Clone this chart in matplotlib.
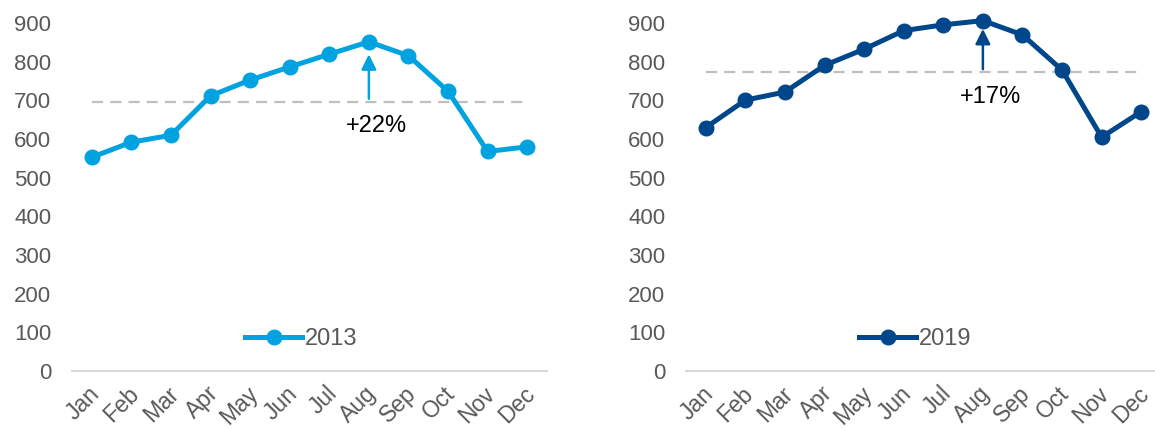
import matplotlib.pyplot as plt
import matplotlib.transforms as mtransforms
import numpy as np

plt.rcParams['font.family'] = ['Liberation Sans', 'DejaVu Sans']

months = ['Jan', 'Feb', 'Mar', 'Apr', 'May', 'Jun', 'Jul', 'Aug', 'Sep', 'Oct', 'Nov', 'Dec']
vals_2013 = [553, 592, 610, 712, 753, 787, 820, 852, 816, 724, 568, 580]
vals_2019 = [630, 701, 722, 791, 833, 881, 896, 907, 870, 779, 605, 671]
years = ['2013', '2019']
colors = ['#00A3E0', '#00468B']
yticks = [0, 100, 200, 300, 400, 500, 600, 700, 800, 900]

fig = plt.figure(figsize=(11.55, 4.3), dpi=100)
lefts = [72 / 1155, 686 / 1155]
grey = '#595959'

for i, (vals, year, c) in enumerate(zip([vals_2013, vals_2019], years, colors)):
    ax = fig.add_axes([lefts[i], 1 - 370.7 / 430, 475 / 1155, 347.4 / 430])
    x = np.arange(len(months))
    ax.plot(x, vals, color=c, lw=3.6, marker='o', ms=10.5, label=year,
            clip_on=False, zorder=3)

    avg = np.mean(vals)
    peak = int(np.argmax(vals))
    pct = (max(vals) / avg - 1) * 100
    # average line across the months
    ax.plot([x[0], x[-1]], [avg, avg], color='#BFBFBF', lw=1.6,
            dashes=(5, 3.2), zorder=1)
    # arrow from the average up to the peak month
    ax.annotate('', xy=(peak, max(vals)), xytext=(peak, avg),
                arrowprops=dict(arrowstyle='-|>,head_length=0.9,head_width=0.45',
                                color=c, lw=1.8, shrinkA=2, shrinkB=9 if i == 0 else 6),
                annotation_clip=False, zorder=2)
    ax.annotate('+%d%%' % round(pct), xy=(peak + 0.2, avg), xytext=(0, -10),
                textcoords='offset points', ha='center', va='top',
                fontsize=17, color='black', annotation_clip=False)

    ax.set_xlim(-0.5, 11.5)
    ax.set_ylim(0, 900)
    ax.set_yticks(yticks)
    ax.set_xticks(x)
    ax.set_xticklabels(months, rotation=45, ha='right', va='center',
                       rotation_mode='anchor')
    ax.tick_params(axis='y', length=0, pad=15, labelsize=16, labelcolor=grey)
    ax.tick_params(axis='x', length=0, pad=14, labelsize=16.5, labelcolor=grey)
    # nudge month labels a little to the right
    shift = mtransforms.ScaledTranslation(4 / 100, 0, fig.dpi_scale_trans)
    for lab in ax.get_xticklabels():
        lab.set_transform(lab.get_transform() + shift)
    for s in ['top', 'right', 'left']:
        ax.spines[s].set_visible(False)
    ax.spines['bottom'].set_color('#D9D9D9')
    ax.spines['bottom'].set_linewidth(1.5)

    leg = ax.legend(loc='center', bbox_to_anchor=(0.482, 0.091), frameon=False,
                    fontsize=17, handlelength=2.45, handletextpad=0.1,
                    borderpad=0, borderaxespad=0)
    for t in leg.get_texts():
        t.set_color(grey)

fig.savefig('out.png', dpi=100)
